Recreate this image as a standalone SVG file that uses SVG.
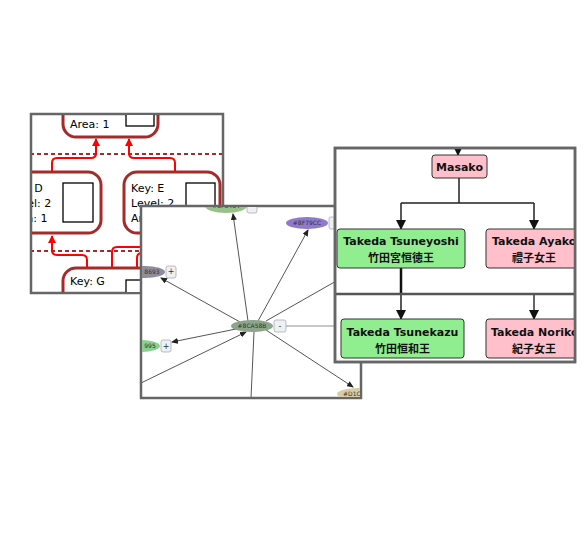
<svg xmlns="http://www.w3.org/2000/svg" width="588" height="543" viewBox="0 0 588 543">
<style>
.frame{fill:#fff;stroke:#666;stroke-width:2.5}
.bn{fill:none;stroke:#a52a2a;stroke-width:3}
.inner{fill:#fff;stroke:#000;stroke-width:1.3}
.t1{font-family:"DejaVu Sans",Verdana,sans-serif;font-size:11px;fill:#000}
.dash{stroke:#a52a2a;stroke-width:2;stroke-dasharray:4 3}
.red{fill:none;stroke:#f00;stroke-width:2;marker-end:url(#ra)}
.redn{fill:none;stroke:#f00;stroke-width:2}
.ge{stroke:#555;stroke-width:1;fill:none}
.gea{stroke:#555;stroke-width:1;fill:none;marker-end:url(#ga)}
.gl{font-family:"DejaVu Sans",Verdana,sans-serif;font-size:6px;fill:#333;text-anchor:middle}
.btn{fill:#eef0f2;stroke:#aab;stroke-width:0.8}
.bt{font-family:"DejaVu Sans",sans-serif;font-size:8px;fill:#333;text-anchor:middle}
.fn{stroke:#333;stroke-width:1}
.pink{fill:#ffc0cb}
.green{fill:#90ee90}
.tb{font-family:"DejaVu Sans",Verdana,"Noto Sans CJK JP",sans-serif;font-size:11px;font-weight:bold;fill:#111}
.tc{font-family:"Noto Sans CJK JP","Noto Sans CJK SC",sans-serif;font-size:11px;font-weight:bold;fill:#111}
.tl{stroke:#222;stroke-width:1.5;fill:none}
</style>
<defs>
<marker id="ra" markerUnits="userSpaceOnUse" markerWidth="8" markerHeight="8" refX="7" refY="4" orient="auto"><path d="M0,0 L8,4 L0,8 z" fill="#f00"/></marker>
<marker id="ga" markerUnits="userSpaceOnUse" markerWidth="7" markerHeight="6" refX="6" refY="3" orient="auto"><path d="M0,0 L7,3 L0,6 z" fill="#222"/></marker>
<marker id="ta" markerUnits="userSpaceOnUse" markerWidth="10" markerHeight="10" refX="9" refY="5" orient="auto"><path d="M0,0 L10,5 L0,10 z" fill="#111"/></marker>
<clipPath id="c1"><rect x="32" y="115" width="190" height="177"/></clipPath>
<clipPath id="c2"><rect x="142" y="207" width="218" height="190"/></clipPath>
<clipPath id="c3"><rect x="336" y="149" width="238" height="212"/></clipPath>
</defs>

<!-- Panel 1 -->
<g id="panel1">
<rect class="frame" x="31" y="114" width="192" height="179"/>
<g clip-path="url(#c1)">
<g id="connectors1">
<line class="dash" x1="30" y1="154" x2="225" y2="154"/>
<line class="dash" x1="30" y1="251" x2="225" y2="251"/>
<path class="red" d="M52 172 V163 Q52 158 57 158 H91 Q96 158 96 153 V139"/>
<path class="red" d="M175 172 V163 Q175 158 170 158 H134 Q129 158 129 153 V139"/>
<path class="red" d="M87 268 V260 Q87 255 82 255 H57 Q52 255 52 250 V236"/>
<path class="redn" d="M112 268 V252 Q112 247 117 247 H170"/>
<path class="redn" d="M137 268 V258 Q137 253 142 253 H170"/>
</g>
<g id="nodeA">
<rect class="bn" x="63" y="60" width="95" height="77" rx="13"/>
<rect class="inner" x="126" y="100" width="28" height="26"/>
<text class="t1" x="70" y="128">Area: 1</text>
</g>
<g id="nodeD">
<rect class="bn" x="-20" y="172" width="121" height="61" rx="13"/>
<rect class="inner" x="63" y="183" width="30" height="39"/>
<text class="t1" x="8" y="192">Key: D</text>
<text class="t1" x="8" y="207">Level: 2</text>
<text class="t1" x="8" y="222">Area: 1</text>
</g>
<g id="nodeE">
<rect class="bn" x="124" y="172" width="96" height="61" rx="13"/>
<rect class="inner" x="186" y="183" width="29" height="39"/>
<text class="t1" x="131" y="192">Key: E</text>
<text class="t1" x="131" y="207">Level: 2</text>
<text class="t1" x="131" y="222">Area: 1</text>
</g>
<g id="nodeG">
<rect class="bn" x="63" y="268" width="150" height="60" rx="13"/>
<rect class="inner" x="126" y="280" width="30" height="39"/>
<text class="t1" x="70" y="285">Key: G</text>
</g>
</g>
</g>

<!-- Panel 2 -->
<g id="panel2">
<rect class="frame" x="141" y="206" width="220" height="192"/>
<g clip-path="url(#c2)">
<g id="connectors2">
<line class="gea" x1="248" y1="321" x2="233" y2="214"/>
<line class="gea" x1="258" y1="321" x2="308" y2="230"/>
<line class="gea" x1="240" y1="322" x2="161" y2="278"/>
<line class="gea" x1="236" y1="329" x2="172" y2="342"/>
<line class="gea" x1="141" y1="383" x2="246" y2="332"/>
<line class="ge" x1="254" y1="332" x2="251" y2="398"/>
<line class="gea" x1="266" y1="330" x2="353" y2="387"/>
<line class="ge" x1="266" y1="321" x2="345" y2="276"/>
<line x1="286" y1="326" x2="345" y2="326" stroke="#c8c8c8" stroke-width="2"/>
</g>
<g id="g-top">
<ellipse cx="226" cy="206" rx="21" ry="7" fill="#96c28a"/>
<text class="gl" x="226" y="208">#8F8464</text>
<rect class="btn" x="247" y="201" width="10" height="12" rx="2"/>
</g>
<g id="g-purple">
<ellipse cx="307" cy="223" rx="21" ry="6" fill="#8f79cc"/>
<text class="gl" x="307" y="225">#8F79CC</text>
<rect class="btn" x="329" y="217" width="10" height="12" rx="2"/>
</g>
<g id="g-gray">
<ellipse cx="145" cy="272" rx="20" ry="6" fill="#8f8c9e"/>
<text class="gl" x="152" y="274">8693</text>
<rect class="btn" x="166" y="266" width="10" height="12" rx="2"/>
<text class="bt" x="171" y="274">+</text>
</g>
<g id="g-center">
<ellipse cx="252" cy="326" rx="21" ry="6" fill="#8ca58b"/>
<text class="gl" x="252" y="328">#8CA58B</text>
<rect class="btn" x="274" y="320" width="12" height="12" rx="2"/>
<text class="bt" x="280" y="329">-</text>
</g>
<g id="g-green">
<ellipse cx="140" cy="346" rx="20" ry="6" fill="#86d190"/>
<text class="gl" x="150" y="348">995</text>
<rect class="btn" x="161" y="340" width="10" height="12" rx="2"/>
<text class="bt" x="166" y="349">+</text>
</g>
<g id="g-tan">
<ellipse cx="358" cy="394" rx="21" ry="6" fill="#d8cba6"/>
<text class="gl" x="343" y="396" style="text-anchor:start">#D1C</text>
</g>
</g>
</g>

<!-- Panel 3 -->
<g id="panel3">
<rect class="frame" x="335" y="148" width="240" height="214"/>
<g clip-path="url(#c3)">
<g id="connectors3">
<line class="tl" x1="458" y1="146" x2="458" y2="155" marker-end="url(#ta)"/>
<path class="tl" d="M459 178 V203 M401 203 H534"/>
<line class="tl" x1="401" y1="203" x2="401" y2="229" marker-end="url(#ta)"/>
<line class="tl" x1="534" y1="203" x2="534" y2="229" marker-end="url(#ta)"/>
<line x1="401" y1="268" x2="401" y2="294" stroke="#111" stroke-width="2.5"/>
<line class="tl" x1="401" y1="294" x2="401" y2="319" marker-end="url(#ta)"/>
<line x1="534" y1="294" x2="534" y2="319" stroke="#666" stroke-width="2" marker-end="url(#ta)"/>
</g>
<g id="masako">
<rect class="pink fn" x="432" y="155" width="55" height="23" rx="3"/>
<text class="tb" x="459.5" y="171" text-anchor="middle">Masako</text>
</g>
<g id="tsuneyoshi">
<rect class="green fn" x="337" y="229" width="128" height="39" rx="3"/>
<text class="tb" x="401" y="245" text-anchor="middle">Takeda Tsuneyoshi</text>
<text class="tc" x="401" y="262" text-anchor="middle">竹田宮恒徳王</text>
</g>
<g id="ayako">
<rect class="pink fn" x="486" y="229" width="96" height="39" rx="3"/>
<text class="tb" x="492" y="245">Takeda Ayako</text>
<text class="tc" x="534" y="262" text-anchor="middle">禮子女王</text>
</g>
<line x1="335" y1="294" x2="575" y2="294" stroke="#555" stroke-width="2.5"/>
<g id="tsunekazu">
<rect class="green fn" x="341" y="319" width="123" height="39" rx="3"/>
<text class="tb" x="402.5" y="336" text-anchor="middle">Takeda Tsunekazu</text>
<text class="tc" x="402.5" y="353" text-anchor="middle">竹田恒和王</text>
</g>
<g id="noriko">
<rect class="pink fn" x="486" y="319" width="96" height="39" rx="3"/>
<text class="tb" x="491" y="336">Takeda Noriko</text>
<text class="tc" x="534" y="353" text-anchor="middle">紀子女王</text>
</g>
</g>
<rect x="335" y="148" width="240" height="214" fill="none" stroke="#666" stroke-width="2.5"/>
</g>
</svg>
